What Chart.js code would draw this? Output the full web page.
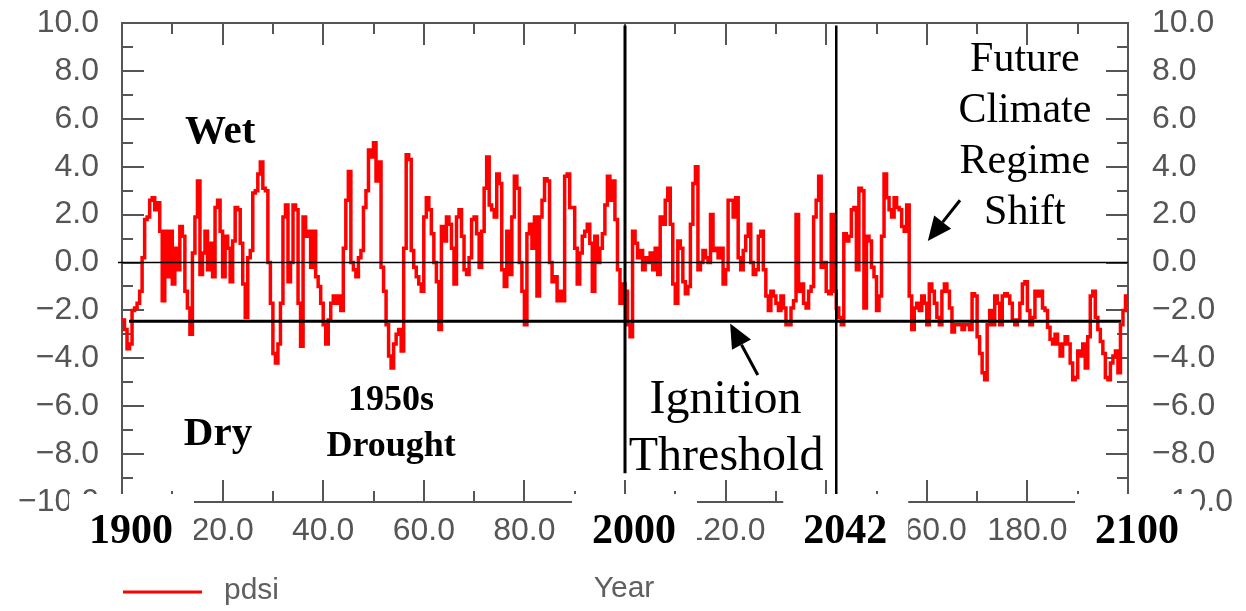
<!DOCTYPE html>
<html>
<head>
<meta charset="utf-8">
<title>PDSI 1900-2100</title>
<script src="https://cdn.jsdelivr.net/npm/chart.js@4.4.1/dist/chart.umd.min.js"></script>
<style>
  html, body { margin: 0; padding: 0; background: #fff; }
  #wrap { position: relative; width: 1246px; height: 611px; }
</style>
</head>
<body>
<div id="wrap"><canvas id="pdsiChart" width="1246" height="611"></canvas></div>
<script>
// PDSI, one value every half year, x = years after 1900
const pdsiStep = 0.5;
const pdsi = [
  // 1900s
  -2.4,-2.8,-3.6,-3.4,-2.0,-1.9,-1.7,-1.2, 0.2, 1.8, 1.9, 2.6, 2.7, 2.2, 2.5, 1.3,-1.6, 1.3,-0.6, 1.3,
  // 1910s
  -0.9, 0.6,-0.3, 1.5, 1.1,-1.2,-1.9,-3.0, 0.4, 1.9, 3.4,-0.5, 0.4, 1.3,-0.3, 0.8,-0.6, 2.3, 2.6, 1.3,
  // 1920s
  -0.6, 1.1, 0.6,-0.8, 0.9, 2.3, 2.2, 0.8,-0.9,-2.3, 0.2, 0.5, 2.9, 3.0, 3.7, 4.2, 3.1, 3.0, 0.0,-1.7,
  // 1930s
  -3.8,-4.2,-3.4,-1.7, 1.9, 2.4,-0.8, 0.0, 2.4, 2.2,-1.7,-3.5, 1.9, 1.1, 1.3,-0.2, 1.3,-0.6,-1.0,-1.7,
  // 1940s
  -2.6,-3.4,-2.4,-1.7,-1.4,-1.7,-1.4,-2.0, 0.6, 2.6, 3.8, 0.0,-0.3,-0.6, 0.2, 0.5, 2.3, 3.0, 4.7, 4.4,
  // 1950s
   5.0, 3.4, 4.2,-0.2,-1.2,-2.6,-3.9,-4.4,-3.4,-3.0,-2.8,-3.7, 0.6, 4.5, 4.3, 0.5,-0.2,-0.6,-0.9,-1.2,
  // 1960s
   1.9, 2.7, 2.2, 1.2, 0.0,-0.8,-2.8, 1.5, 0.9, 1.9, 1.6, 0.6,-0.9, 1.9, 2.2, 1.1,-0.3,-0.5, 0.2, 1.8,
  // 1970s
   1.9, 1.2,-0.2, 1.3, 3.1, 4.4, 2.4, 2.2, 1.9, 3.7, 3.3,-0.3,-1.0, 1.3,-0.5, 1.9, 3.6, 3.1, 0.0,-1.2,
  // 1980s
  -2.6, 1.2, 1.6, 0.6, 1.9,-1.4, 1.9, 2.6, 3.5, 3.4, 0.0,-0.8,-0.6,-1.6,-1.2,-1.6, 3.6, 3.7, 2.3, 2.3,
  // 1990s
   0.6,-0.9, 0.4, 1.1, 1.3, 1.6, 0.8,-1.2, 1.1, 0.0, 0.6, 1.2, 2.4, 3.6, 2.6, 3.4, 1.8,-0.3,-1.7,-0.9,
  // 2000s
  -1.2,-2.6,-3.1, 1.3, 0.8, 0.2, 0.5,-0.3, 0.2, 0.0, 0.4,-0.3, 0.6,-0.5, 1.9, 1.6, 2.6, 3.1, 1.6,-0.9,
  // 2010s
  -1.7, 0.9, 0.6,-0.8,-1.3,-1.0, 1.6, 3.3, 4.0,-0.3, 0.0, 0.5, 0.2, 0.0, 2.0, 0.5, 0.6, 0.2, 0.6,-0.9,
  // 2020s
  -0.3, 2.6, 2.6, 1.9, 2.7, 0.2,-0.3, 0.5, 1.1, 1.6, 0.0,-0.5,-0.3, 1.1, 1.3,-0.3,-1.4,-2.0,-1.2,-1.4,
  // 2030s
  -1.7,-2.0,-1.4,-1.9,-2.6,-2.6,-1.9,-1.6, 2.0,-1.2,-0.9,-1.7,-1.9,-1.2,-1.0, 1.9, 2.6, 3.6,-0.2, 0.0,
  // 2040s
  -1.2,-1.3, 2.0,-1.2,-1.9,-2.3,-2.6, 1.2, 0.9, 1.1, 2.2, 2.3,-0.3, 3.1, 3.0,-1.9, 1.1, 0.9,-0.2,-0.6,
  // 2050s
  -2.0,-1.4, 1.1, 3.7, 2.7, 2.2, 1.9, 2.7, 2.3, 2.2, 1.5, 1.3, 2.4,-1.4,-2.8,-1.9,-1.7,-2.0,-1.4,-1.7,
  // 2060s
  -2.6,-0.9,-1.2,-1.7,-2.3,-2.6,-1.2,-0.9,-1.2,-1.9,-2.9,-2.6,-2.6,-2.6,-2.8,-2.6,-2.6,-2.8,-1.3,-1.4,
  // 2070s
  -3.1,-3.8,-4.6,-4.9,-2.6,-2.0,-2.6,-1.4,-1.7,-2.6,-1.4,-1.3,-1.4,-1.7,-2.4,-2.6,-2.4,-1.7,-0.9,-0.8,
  // 2080s
  -2.0,-2.6,-2.3,-1.2,-1.4,-1.2,-1.9,-2.0,-2.7,-3.2,-3.4,-3.0,-3.4,-3.9,-3.4,-3.1,-3.4,-4.2,-4.9,-4.8,
  // 2090s
  -3.7,-3.9,-3.4,-4.4,-3.1,-1.4,-1.2,-2.3,-2.8,-3.3,-3.8,-4.8,-4.9,-4.2,-3.9,-3.7,-4.6,-2.6,-2.0,-1.4,
  // 2100
  -1.6
];
const pdsiYears = pdsi.map((_, i) => i * pdsiStep);

const ignitionThreshold = -2.45;
const regimeYears = [100, 142];              // 2000 and 2042
const calendarLabels = ['1900', '2000', '2042', '2100'];
const calendarYears = [0, 100, 142, 200];

const fmt = v => (v < 0 ? '\u2212' : '') + Math.abs(v).toFixed(1);
const tickFont = { family: 'Liberation Sans', size: 32 };
const tickColor = '#555';

// frame and inward tick marks, like the old plotting package
const framePlugin = {
  id: 'frame',
  beforeDatasetsDraw(chart) {
    const { ctx, chartArea: a, scales: { x, y } } = chart;
    ctx.save();
    ctx.strokeStyle = '#555';
    ctx.lineWidth = 2;
    ctx.strokeRect(a.left, a.top, a.right - a.left, a.bottom - a.top);
    ctx.beginPath();
    for (let v = -10; v <= 10; v += 1) {
      const py = Math.round(y.getPixelForValue(v));
      const len = v % 2 === 0 ? 22 : 11;
      ctx.moveTo(a.left, py); ctx.lineTo(a.left + len, py);
      ctx.moveTo(a.right, py); ctx.lineTo(a.right - len, py);
    }
    for (let t = 0; t <= 200; t += 10) {
      const px = Math.round(x.getPixelForValue(t));
      const len = t % 20 === 0 ? 22 : 11;
      ctx.moveTo(px, a.top); ctx.lineTo(px, a.top + len);
      ctx.moveTo(px, a.bottom); ctx.lineTo(px, a.bottom - len);
    }
    ctx.stroke();
    ctx.restore();
  }
};

function arrow(ctx, x0, y0, x1, y1, head) {
  const ang = Math.atan2(y1 - y0, x1 - x0);
  const bx = x1 - head * Math.cos(ang), by = y1 - head * Math.sin(ang);
  ctx.beginPath();
  ctx.moveTo(x0, y0); ctx.lineTo(bx, by);
  ctx.stroke();
  ctx.beginPath();
  ctx.moveTo(x1, y1);
  ctx.lineTo(bx + head * 0.45 * Math.sin(ang), by - head * 0.45 * Math.cos(ang));
  ctx.lineTo(bx - head * 0.45 * Math.sin(ang), by + head * 0.45 * Math.cos(ang));
  ctx.closePath();
  ctx.fill();
}

// text notes, arrows, calendar-year boxes, legend
const notesPlugin = {
  id: 'notes',
  afterDraw(chart) {
    const { ctx, scales: { x, y } } = chart;
    const X = v => x.getPixelForValue(v), Y = v => y.getPixelForValue(v);
    ctx.save();
    ctx.fillStyle = '#000';
    ctx.strokeStyle = '#000';

    ctx.font = 'bold 41px "Liberation Serif"';
    ctx.textAlign = 'left';
    ctx.textBaseline = 'alphabetic';
    ctx.fillText('Wet', X(12.5), Y(5.0));
    ctx.fillText('Dry', X(12.3), Y(-7.6));

    ctx.font = 'bold 36px "Liberation Serif"';
    ctx.textAlign = 'center';
    ctx.fillText('1950s', X(53.5), Y(-6.17));
    ctx.fillText('Drought', X(53.5), Y(-8.1));

    ctx.font = '48px "Liberation Serif"';
    ctx.fillText('Ignition', X(120), Y(-6.3));
    ctx.fillText('Threshold', X(120.1), Y(-8.67));

    ctx.font = '42px "Liberation Serif"';
    ['Future', 'Climate', 'Regime', 'Shift'].forEach((s, i) => {
      ctx.fillText(s, X(179.5), Y(8.0) + i * 51);
    });

    ctx.lineWidth = 3;
    arrow(ctx, X(166.6), Y(2.6), X(160.2), Y(0.9), 24);
    arrow(ctx, X(126.4), Y(-4.7), X(120.9), Y(-2.55), 24);

    // calendar-year boxes over the offset axis labels
    ctx.font = 'bold 42px "Liberation Serif"';
    ctx.textBaseline = 'middle';
    calendarYears.forEach((yr, i) => {
      const cx = X(yr) + 9;
      ctx.fillStyle = '#fff';
      ctx.fillRect(cx - 62, 494, 125, 70);
      ctx.fillStyle = '#000';
      ctx.fillText(calendarLabels[i], cx, 532);
    });

    // axis title and legend
    ctx.fillStyle = '#606060';
    ctx.font = '30px "Liberation Sans"';
    ctx.fillText('Year', X(99.8), 589);
    ctx.textAlign = 'left';
    ctx.fillText('pdsi', 224, 591);
    ctx.strokeStyle = '#ff0000';
    ctx.lineWidth = 3;
    ctx.beginPath();
    ctx.moveTo(123, 592); ctx.lineTo(202, 592);
    ctx.stroke();
    ctx.restore();
  }
};

const refLine = (pts, w) => ({
  data: pts, borderColor: '#000', borderWidth: w, pointRadius: 0,
  clip: false, order: 0, parsing: false
});

// fixed plot box: drop the label overflow padding Chart.js adds around the axes
const fitY = w => s => { s.width = w; s.paddingTop = 0; s.paddingBottom = 0; };

new Chart(document.getElementById('pdsiChart'), {
  type: 'line',
  data: {
    datasets: [
      refLine([{ x: -0.8, y: 0 }, { x: 200, y: 0 }], 1.5),
      refLine([{ x: 1.4, y: ignitionThreshold }, { x: 198.6, y: ignitionThreshold }], 3),
      refLine([{ x: regimeYears[0], y: 9.9 }, { x: regimeYears[0], y: -8.8 }], 3),
      refLine([{ x: regimeYears[1], y: 9.9 }, { x: regimeYears[1], y: -10 }], 2.5),
      {
        label: 'pdsi',
        data: pdsi.map((v, i) => ({ x: pdsiYears[i], y: v })),
        borderColor: '#ff0000',
        borderWidth: 3.5,
        pointRadius: 0,
        stepped: true,
        order: 1,
        parsing: false
      }
    ]
  },
  options: {
    responsive: false,
    animation: false,
    devicePixelRatio: 1,
    layout: { padding: { top: 23, left: 0, right: 0, bottom: 0 } },
    plugins: { legend: { display: false }, tooltip: { enabled: false } },
    scales: {
      x: {
        type: 'linear', position: 'bottom', min: 0, max: 200,
        afterFit: s => { s.height = 109; s.paddingLeft = 0; s.paddingRight = 0; },
        grid: { display: false, drawTicks: false },
        border: { display: false },
        ticks: {
          stepSize: 20, autoSkip: false, maxRotation: 0,
          callback: v => fmt(v), font: tickFont, color: tickColor, padding: 10
        }
      },
      y: {
        type: 'linear', position: 'left', min: -10, max: 10,
        afterFit: fitY(122),
        grid: { display: false, drawTicks: false },
        border: { display: false },
        ticks: { stepSize: 2, callback: v => fmt(v), font: tickFont, color: tickColor, padding: 23 }
      },
      y2: {
        type: 'linear', position: 'right', min: -10, max: 10,
        afterFit: fitY(118),
        grid: { display: false, drawTicks: false },
        border: { display: false },
        ticks: { stepSize: 2, callback: v => fmt(v), font: tickFont, color: tickColor, padding: 24 }
      }
    }
  },
  plugins: [framePlugin, notesPlugin]
});
</script>
</body>
</html>
